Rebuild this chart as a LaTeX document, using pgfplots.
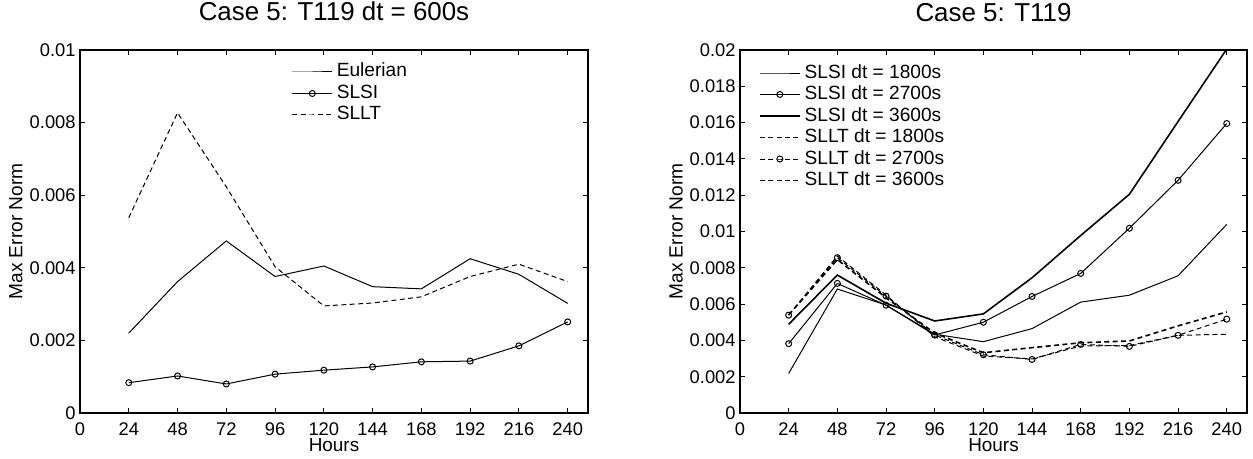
\documentclass[border=0pt]{standalone}
\usepackage{fontspec}
\setmainfont{Liberation Sans}
\usepackage{pgfplots}
\usepackage{pgfplotstable}
\pgfplotsset{compat=1.18}

% left panel, dt = 600s
\pgfplotstableread{
h    eul      slsi      sllt
24   0.00220  0.000835  0.00538
48   0.00362  0.00102   0.00827
72   0.00474  0.00080   0.00623
96   0.00376  0.00107   0.00403
120  0.00405  0.00118   0.00295
144  0.00348  0.00127   0.00303
168  0.00342  0.00141   0.00320
192  0.00425  0.00143   0.00376
216  0.00382  0.00185   0.00410
240  0.00302  0.00251   0.00362
}\dtsix

% right panel, larger time steps
\pgfplotstableread{
h    si18     si27     si36     lt18     lt27     lt36
24   0.00218  0.00382  0.00489  0.00540  0.00539  0.00540
48   0.00683  0.00714  0.00760  0.00865  0.00856  0.00845
72   0.00595  0.00594  0.00605  0.00650  0.00644  0.00635
96   0.00434  0.00430  0.00507  0.00420  0.00430  0.00440
120  0.00393  0.00500  0.00546  0.00314  0.00321  0.00332
144  0.00465  0.00642  0.00745  0.00298  0.00295  0.00360
168  0.00611  0.00769  0.00978  0.00369  0.00378  0.00387
192  0.00649  0.01018  0.01205  0.00372  0.00367  0.00397
216  0.00756  0.01282  0.01606  0.00428  0.00428  0.00480
240  0.01039  0.01595  0.02005  0.00434  0.00517  0.00557
}\dtbig

\pgfplotsset{
  matlab/.style={
    scale only axis, height=181.5bp,
    xmin=0, xmax=250, xtick={0,24,...,240},
    ymin=0,
    axis line style={line width=0.6bp},
    tick align=inside, tick style={black, line width=0.5bp},
    major tick length=2.5bp,
    font=\fontsize{9.2}{11}\selectfont,
    /pgf/number format/assume math mode=true,
    scaled y ticks=false,
    xticklabel style={anchor=base, inner sep=0pt, yshift=-11bp},
    yticklabel style={anchor=east, inner sep=0pt, xshift=-2bp},
    xlabel style={at={(axis description cs:0.5,0)}, anchor=base, yshift=-19bp,
      inner sep=0pt, font=\fontsize{9.5}{11}\selectfont},
    ylabel style={anchor=center, inner sep=0pt, font=\fontsize{9.6}{11}\selectfont},
    every axis title shift=0pt,
    title style={at={(axis description cs:0.5,1)}, anchor=base, yshift=14.5bp,
      font=\fontsize{13}{15}\selectfont, inner sep=0pt},
    legend style={draw=none, fill=none, inner sep=0pt, outer sep=0pt,
      row sep=1.75bp, column sep=2bp, font=\fontsize{9.6}{11}\selectfont,
      nodes={inner sep=0pt, text height=7bp, text depth=2bp}},
    legend cell align=left,
    legend image code/.code={\draw[mark repeat=2,mark phase=2,#1]
      plot coordinates {(0bp,0bp) (10bp,0bp) (20bp,0bp)};},
    every axis plot/.append style={black, line width=0.5bp, mark size=1.5bp},
    xlabel={Hours}, ylabel={Max Error Norm},
  },
  dsh/.style={dash pattern=on 2.5bp off 1.7bp},
}

\begin{document}
\begin{tikzpicture}
\useasboundingbox (0,0) rectangle (626.5bp,229.5bp);

\begin{axis}[matlab, width=254bp, at={(40bp,23bp)}, anchor=south west,
  ymax=0.01, ytick={0,0.002,0.004,0.006,0.008,0.01},
  yticklabels={0,0.002,0.004,0.006,0.008,0.01},
  ylabel style={at={(axis description cs:-0.126,0.5)}},
  title={Case 5: T119 dt = 600s},
  legend style={at={(axis description cs:0.417,1)}, anchor=north west, yshift=-6.5bp}]
\addplot[no marks] table[x=h, y=eul] {\dtsix};
\addlegendentry{Eulerian}
\addplot[mark=o] table[x=h, y=slsi] {\dtsix};
\addlegendentry{SLSI}
\addplot[no marks, dsh] table[x=h, y=sllt] {\dtsix};
\addlegendentry{SLLT}
\end{axis}

\begin{axis}[matlab, width=253.5bp, at={(370bp,23bp)}, anchor=south west,
  ymax=0.02,
  ytick={0,0.002,0.004,0.006,0.008,0.01,0.012,0.014,0.016,0.018,0.02},
  yticklabels={0,0.002,0.004,0.006,0.008,0.01,0.012,0.014,0.016,0.018,0.02},
  ylabel style={at={(axis description cs:-0.126,0.5)}},
  title={Case 5: T119},
  legend style={at={(axis description cs:0.0375,1)}, anchor=north west, yshift=-7bp}]
\addplot[no marks] table[x=h, y=si18] {\dtbig};
\addlegendentry{SLSI dt = 1800s}
\addplot[mark=o] table[x=h, y=si27] {\dtbig};
\addlegendentry{SLSI dt = 2700s}
\addplot[no marks, line width=0.8bp] table[x=h, y=si36] {\dtbig};
\addlegendentry{SLSI dt = 3600s}
\addplot[no marks, dsh] table[x=h, y=lt18] {\dtbig};
\addlegendentry{SLLT dt = 1800s}
\addplot[mark=o, dsh, mark options={solid}] table[x=h, y=lt27] {\dtbig};
\addlegendentry{SLLT dt = 2700s}
\addplot[no marks, dsh, line width=0.8bp] table[x=h, y=lt36] {\dtbig};
\addlegendentry{SLLT dt = 3600s}
\end{axis}
\end{tikzpicture}
\end{document}
